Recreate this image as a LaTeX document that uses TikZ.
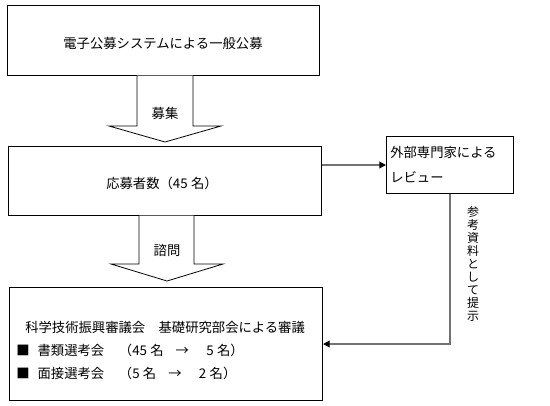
\documentclass[tikz,border=0pt]{standalone}
\usepackage{fontspec}
\setmainfont{Noto Sans CJK JP}
\usetikzlibrary{arrows.meta}
\begin{document}
\begin{tikzpicture}[x=0.75pt,y=-0.75pt,
  box/.style={draw=black,line width=0.75pt,anchor=north west,inner sep=0pt,fill=white},
  txt/.style={inner sep=0pt,font=\fontsize{10pt}{12pt}\selectfont},
  conn/.style={draw=black!55,line width=1pt,-{Triangle[color=black,length=5pt,width=5pt]}},
  blockarrow/.style={draw=black,line width=0.6pt,fill=white}]
\useasboundingbox (0,0) rectangle (550,405);
\node[box,minimum width=234pt,minimum height=52.5pt] (box1) at (7,5) {};
\node[box,minimum width=234.75pt,minimum height=51.75pt] (box2) at (8,146) {};
\node[box,minimum width=95.25pt,minimum height=42.75pt] (box3) at (386,136) {};
\node[box,minimum width=234.75pt,minimum height=84.75pt] (box4) at (9,287) {};
% block arrows
\draw[blockarrow] (137,75.5) -- (137,126) -- (109,126) -- (165,142) -- (221,126) -- (193,126) -- (193,75.5);
\draw[blockarrow] (139,215.5) -- (139,264) -- (111,264) -- (167,281) -- (223,264) -- (194,264) -- (194,215.5);
% texts
\node[txt] (t1) at (163,43) {電子公募システムによる一般公募};
\node[txt] (t2) at (162,183) {応募者数（45\hspace{0.25em}名）};
\node[txt] (ta) at (165,113) {募集};
\node[txt] (tb) at (167,250) {諮問};
\node[txt,anchor=west] (t3a) at (390,152) {外部専門家による};
\node[txt,anchor=west] (t3b) at (390,177) {レビュー};
\node[txt,anchor=west] (t4a) at (25,327) {科学技術振興審議会　基礎研究部会による審議};
\node[txt,anchor=west] (t4b) at (16,350) {■\hspace{0.6em}書類選考会\hspace{1.1em}（45\hspace{0.25em}名\hspace{0.9em}→\hspace{1.3em}5\hspace{0.25em}名）};
\node[txt,anchor=west] (t4c) at (16,373) {■\hspace{0.6em}面接選考会\hspace{1.1em}（5\hspace{0.25em}名\hspace{0.9em}→\hspace{1.3em}2\hspace{0.25em}名）};
\node[inner sep=0pt,align=center,font=\fontsize{9pt}{9.8pt}\selectfont] (tv) at (473,264) {参\\考\\資\\料\\と\\し\\て\\提\\示};
% connectors
\draw[conn] (box3.west -| box2.east) -- (box3.west);
\draw[conn] (box3.south) |- (box4.east);
\end{tikzpicture}
\end{document}
